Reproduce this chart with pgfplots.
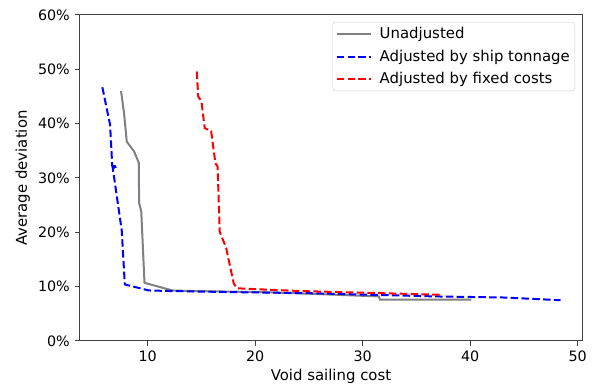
\documentclass[border=0pt]{standalone}
\usepackage{pgfplots}
\pgfplotsset{compat=1.18}
\usepackage{fontspec}
\setmainfont{DejaVu Sans}
\begin{document}
\fontsize{14.9}{17.5}\selectfont
\begin{tikzpicture}
\begin{axis}[
  scale only axis, width=502pt, height=326pt,
  xmin=3.7, xmax=50.4, ymin=0, ymax=60,
  xtick={10,20,30,40,50}, ytick={0,10,20,30,40,50,60},
  yticklabel={\pgfmathprintnumber{\tick}\%},
  /pgf/number format/assume math mode=true,
  tick label style={font=\fontsize{14.3}{17}\selectfont},
  tick align=outside, tick pos=left,
  major tick length=5pt,
  every tick/.style={black!75, line width=1pt},
  axis line style={black!75, line width=1pt},
  xlabel={Void sailing cost}, ylabel={Average deviation},
  xlabel style={yshift=3pt}, ylabel style={yshift=-2pt},
  legend cell align=left,
  legend style={at={(1,1)}, xshift=-7pt, yshift=-7pt, anchor=north east,
    draw=black!20, rounded corners=3pt, fill=white, inner sep=3pt,
    row sep=5pt, font=\fontsize{14.9}{17.5}\selectfont},
  legend image code/.code={\draw[#1] (0pt,0pt) -- (34pt,0pt); \path (40pt,0pt);},
]
\addplot[color=gray, line width=2pt] coordinates {
(7.52,46.0)(7.8,41.9)(8.05,36.7)(8.73,34.9)(9.17,32.8)(9.2,25.4)(9.4,23.8)(9.7,10.7)(12.3,9.3)(14,9.2)(20.5,9.0)(25,8.7)(31.5,8.2)(31.6,7.6)(40.1,7.6)};
\addlegendentry{Unadjusted}
\addplot[color=blue, line width=2pt, dash pattern=on 7.5pt off 3.3pt] coordinates {
(5.78,46.7)(6.5,39.8)(6.7,32.2)(7.2,32.2)(6.75,31.8)(7.58,20.4)(7.87,10.4)(10.1,9.3)(12,9.2)(17.7,9.0)(25,8.8)(36.8,8.2)(43.2,8.0)(48.4,7.5)};
\addlegendentry{Adjusted by ship tonnage}
\addplot[color=red, line width=2pt, dash pattern=on 7.5pt off 3.3pt] coordinates {
(14.56,49.6)(14.7,45.0)(15.0,44.1)(15.3,39.2)(15.9,38.6)(16.3,32.7)(16.5,32.1)(16.7,20.1)(17.3,17.1)(18.0,10.6)(18.3,9.7)(20.5,9.5)(24.1,9.2)(33.6,8.7)(37.4,8.5)};
\addlegendentry{Adjusted by fixed costs}
\end{axis}
\path (current axis.south west) ++(-80pt,-46pt) (current axis.north east) ++(14pt,15pt);
\end{tikzpicture}
\end{document}
